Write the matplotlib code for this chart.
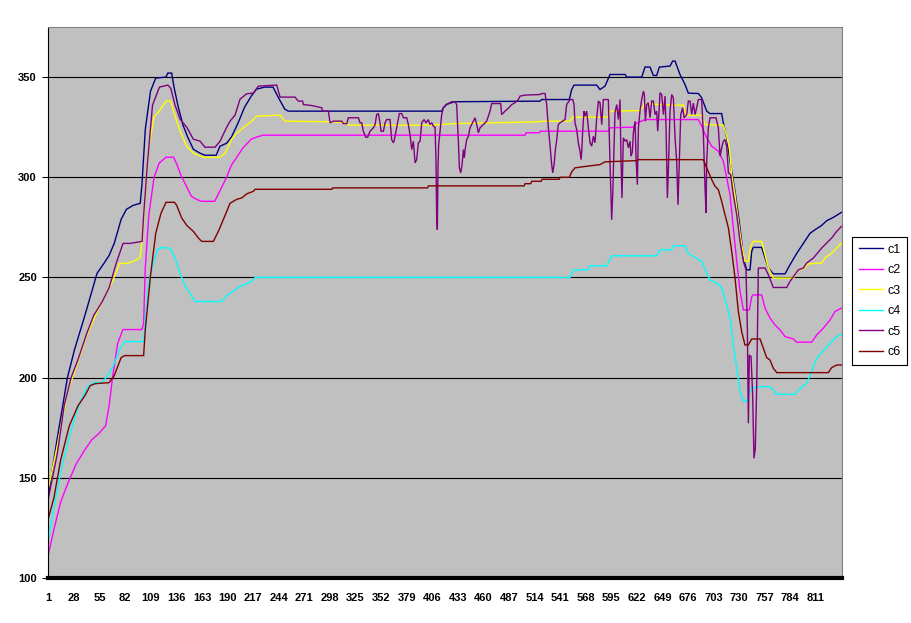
import matplotlib.pyplot as plt

# series: (category index, value) break points
c1_pts = [(1, 142), (10, 169), (21, 200), (28.5, 214), (39.4, 231), (44.9, 240), (52.2, 252), (59.5, 257),
          (65, 261), (70.4, 267), (77.7, 279), (83.2, 284), (90.5, 286), (97.8, 287), (99.6, 296), (103.2, 324),
          (108.7, 343), (114.2, 349.5), (125, 350), (127, 352), (131, 352), (133.5, 345), (138, 335), (143, 326),
          (148, 320), (153.9, 314), (161, 312), (166.2, 311), (178, 311), (182, 315.5), (189, 317), (194, 320),
          (201, 327), (208, 335), (215, 340.5), (220.6, 344), (229.4, 345), (238, 345), (243.4, 340), (250.4, 334),
          (254, 333), (416, 333), (417.8, 334.7), (421.3, 336.3), (424.8, 337), (430.1, 337.7), (519.8, 338),
          (521.6, 338.8), (550.7, 338.8), (553.2, 343.8), (555.7, 346), (579.6, 346), (583.1, 343.8), (588.4, 345.5),
          (593.7, 351.3), (609.5, 351.3), (611.3, 350), (627.1, 350), (630.6, 355), (635.9, 355), (639.4, 350.8),
          (642.9, 350.8), (645.7, 355), (657, 355.5), (659.8, 358), (662.3, 358), (667.5, 351.3), (672.8, 346.3),
          (676.3, 342), (686.9, 341.8), (690.4, 339.7), (695.7, 333), (699.2, 331.8), (711.5, 331.8), (713.3, 327),
          (716.8, 319.7), (720.3, 308), (725.6, 293), (729.1, 281.3), (732.6, 268), (734.4, 259.7), (737.9, 253.8),
          (741.4, 253.8), (743.2, 263), (744.9, 265), (753.7, 265), (757.3, 259.7), (760.8, 254.7), (766, 251.8),
          (778.4, 251.8), (783.6, 256.3), (790.7, 262), (797.7, 267), (804.7, 272), (810, 273.8), (817.1, 276),
          (822.3, 278.3), (829.4, 280), (838, 282.5)]

c2_pts = [(1, 112), (6.6, 124), (13.9, 138), (21.2, 147), (30.3, 157), (39.4, 164), (46.7, 169), (54, 172),
          (61.3, 176), (65, 186), (68.6, 200), (74, 217), (79.5, 224), (99.6, 224), (101.4, 227), (103.2, 255),
          (106.9, 281), (112.4, 300), (117.8, 307), (125, 310), (133, 310), (136, 307), (141.3, 300.5),
          (146.6, 295.5), (151.8, 290.5), (157.1, 289), (162.4, 288), (176.4, 288), (181.7, 293), (188.7, 299.7),
          (194, 306), (199.3, 309.7), (206.3, 314.7), (215, 319), (220.3, 320), (227.4, 321), (504, 321),
          (505, 322.2), (519, 322.2), (520, 323), (591.9, 323), (593.7, 324.7), (618.3, 325), (621.8, 327),
          (630.6, 328.8), (686.9, 328.8), (690.4, 325.5), (695.7, 319.7), (701, 315.5), (708, 313), (713.3, 308),
          (716.8, 299.7), (720.3, 291.3), (723.8, 274.7), (727.4, 258), (730.9, 243), (734.4, 233.8),
          (740.7, 233.8), (743.2, 240.5), (744.9, 241.3), (753.7, 241.3), (757.3, 234.7), (762.5, 229.7),
          (767.8, 226.3), (773.1, 223.8), (778.4, 220.5), (787.2, 219.3), (790.7, 217.7), (806.5, 217.7),
          (811.8, 221.3), (818.8, 224.7), (825.9, 228.8), (831.1, 233), (838, 234.7)]

c3_pts = [(1, 145), (10.3, 166), (21.2, 193), (28.5, 203), (41.4, 221), (48.6, 229), (57.7, 238), (68.6, 248),
          (75.9, 257), (83.2, 257), (90.5, 258), (97.8, 260), (100.7, 272), (103.2, 293), (106.9, 315),
          (112.4, 330), (117.8, 333), (125.1, 338), (130, 338), (134.6, 330.5), (139.9, 323), (146.9, 315.5),
          (153.9, 312), (164.5, 310), (182.1, 310), (187.4, 312), (194.4, 319), (199.7, 322), (206.7, 324.7),
          (215.5, 328), (220.8, 330.5), (245.4, 331), (250.7, 328), (298.2, 327.7), (315.8, 327.2), (317.5, 326),
          (403.7, 326), (430.1, 326.8), (519.8, 327.7), (521.6, 328), (551.5, 328), (554.3, 330), (591.9, 330),
          (593.7, 333), (625.3, 333.3), (630.6, 336.7), (660.5, 336), (671.1, 336), (673.9, 331), (690.4, 331),
          (693.9, 326.3), (713.3, 326), (716.8, 320.5), (719.6, 314.7), (722.1, 301.3), (725.6, 291.3),
          (729.1, 278), (732.6, 266.3), (736.1, 258), (739.7, 258), (742.1, 265.5), (744.9, 268), (753.7, 268),
          (757.3, 261.3), (760.8, 254.7), (766, 249.7), (787.2, 249.7), (792.4, 253.8), (797.7, 254.3),
          (803, 256.8), (817.1, 257.2), (820.6, 259.7), (827.6, 262.2), (838, 267.2)]

c4_pts = [(1, 119), (8.5, 140), (15.8, 157), (24.9, 174), (32.2, 185), (41.3, 195), (48.6, 197.5), (57.7, 197.5),
          (65, 202), (70.4, 207), (75.9, 214), (81.4, 218), (101.4, 218), (103.2, 229), (106.9, 248), (110.5, 255),
          (116, 264), (121.5, 265), (129.3, 264.5), (134.6, 259.7), (139.9, 252), (145.1, 246), (150.4, 242),
          (155.7, 238), (183.8, 238), (189.1, 241), (196.1, 243), (201.4, 245), (210.2, 247), (215.5, 248),
          (219, 250), (551.4, 250), (554.9, 253.8), (570.7, 253.8), (572.5, 255.8), (590.2, 255.8),
          (595.4, 260.8), (642.9, 260.8), (646.4, 263.8), (658.7, 263.8), (660.5, 265.8), (672.8, 265.8),
          (676.3, 262), (683.4, 260), (690.4, 258), (695.7, 252.2), (699.2, 248.8), (708, 246.7), (711.5, 244.7),
          (716.8, 236.3), (720.3, 229.7), (723.8, 216.3), (727.4, 204.7), (730.9, 193), (734.4, 188.3),
          (737.9, 188.3), (741.4, 193.8), (748.5, 195.5), (762.5, 195.5), (769.6, 191.7), (788.9, 191.7),
          (792.4, 193.8), (801.2, 197.2), (806.5, 203), (811.8, 209.7), (818.8, 213.3), (825.9, 217.2),
          (832.9, 220.5), (838, 221.7)]

c5_pts = [(1, 140), (10.3, 162), (17.6, 186), (24.9, 200), (32.2, 209), (41.4, 222), (48.7, 231), (57.8, 238),
          (65.1, 245), (72.4, 257), (79.7, 267), (87, 267), (99.8, 268), (101.6, 282), (105.3, 306), (110.8, 336),
          (118.1, 345), (127, 346), (130, 344.5), (134.6, 336), (139.9, 329), (146.9, 325), (153.9, 319),
          (161, 318), (166.2, 315), (176.8, 315), (182.1, 318), (189.1, 325), (192.6, 328), (197.9, 331),
          (203.2, 339), (210.2, 341.7), (217.3, 342), (222.5, 345.5), (241.9, 346), (245.4, 340), (261.2, 340),
          (264.7, 338), (269.3, 338), (270, 336.3), (278.8, 335.8), (289.4, 334.7), (290.4, 333), (296.4, 333),
          (298.2, 327.2), (301.7, 328), (310.5, 328), (312.2, 326.8), (315.8, 326.8), (317.5, 329.7),
          (328.1, 329.7), (329.8, 327.2), (331.6, 327.2), (333.3, 323), (335.8, 320), (337.9, 320), (340.4, 323),
          (343.9, 324.7), (345.7, 326.3), (347.4, 331.3), (349.2, 331.8), (350.9, 327.2), (352, 323),
          (354.5, 323), (356.2, 327.2), (358, 328.8), (361.5, 328.8), (363.2, 318.8), (365, 317.2),
          (366.1, 318.8), (368.5, 324.7), (371.3, 331.8), (373.8, 331.8), (375.6, 329.7), (379.1, 329.7),
          (380.8, 326.3), (382.6, 321.3), (384.4, 313.8), (386.1, 318), (387.9, 307.2), (389.6, 308.8),
          (391.4, 317.2), (393.2, 318), (394.9, 327.2), (397.4, 328.8), (399.5, 327.2), (401.9, 328.8),
          (403.7, 326.3), (405.5, 327.2), (407.2, 325.5), (409, 325), (410, 308), (410.7, 280.5), (411.4, 273.8),
          (412.1, 304.7), (412.8, 316.3), (414.3, 323), (416, 331.3), (417.8, 334.7), (420.6, 336.3),
          (426.6, 337.7), (430.1, 337.7), (431.8, 336.3), (433.6, 318), (434.7, 304.7), (436.1, 302.2),
          (437.5, 306.3), (438.9, 313.8), (439.9, 309.7), (441, 314.7), (442.4, 318.8), (444.2, 320.5),
          (445.9, 324.7), (449.4, 328), (451.2, 329.7), (453, 326.3), (454.7, 322.2), (456.5, 324.7),
          (460, 326.3), (463.5, 328), (467, 333), (468.8, 336.8), (478.3, 336.8), (479.3, 331.3), (482.9, 333),
          (486.4, 334.5), (489.9, 336.3), (493.4, 337.2), (496.9, 338.8), (498.7, 340.5), (504, 341),
          (519.8, 341.3), (521.6, 341.8), (525.1, 341.8), (526.8, 336.3), (528.6, 324.7), (530.3, 316.3),
          (532.1, 306.3), (533.2, 302.2), (534.6, 306.3), (536, 313.8), (537.4, 318.8), (539.1, 326.3),
          (540.9, 327.2), (546.2, 328.8), (547.9, 336.3), (551.5, 338.8), (554.3, 338.8), (555.7, 336.3),
          (556.7, 327.2), (558.5, 323.8), (560.2, 317.2), (562, 313), (563.1, 308.8), (563.8, 313), (564.8, 323),
          (566.2, 333), (567.3, 330.5), (569, 333), (570.8, 324.7), (572.6, 317.2), (574.3, 315.5),
          (576.1, 320.5), (577.8, 317.2), (579.6, 329.7), (581.4, 338), (583.1, 337.2), (584.9, 326.3),
          (586.6, 338.8), (591.9, 338.8), (593.7, 306.3), (595.4, 278.8), (596.5, 291.3), (597.9, 316.3),
          (598.9, 332.2), (600.7, 336.3), (602.5, 328.8), (604.2, 338.8), (605.3, 308), (606.3, 289.7),
          (607.7, 319.7), (609.5, 318), (611.3, 318.8), (613, 314.7), (614.8, 318), (615.8, 310.5),
          (617.2, 312.5), (618.3, 322.2), (620.1, 328), (621.1, 309.7), (622.5, 296.3), (623.6, 324.7),
          (625.3, 333), (627.1, 338.8), (628.9, 343), (629.9, 341.3), (631, 328), (632.4, 336.3), (634.1, 337.2),
          (635.9, 329.7), (637.6, 338), (639.4, 338), (641.2, 331.3), (642.9, 333), (644, 323), (645.4, 333),
          (646.4, 342.2), (648.2, 341.3), (650, 331.3), (651.7, 340.5), (652.8, 324.7), (654.2, 289.7),
          (655.2, 303), (657, 333), (658.8, 341.3), (660.5, 339.7), (662.3, 319.7), (664, 308), (665.4, 286.3),
          (666.8, 308), (668.3, 331.3), (670.4, 334.7), (671.8, 329.7), (674.6, 331.3), (676.3, 338),
          (678.1, 338), (679.9, 331.3), (681.6, 337), (683.4, 331.3), (685.1, 334.7), (686.9, 338.8),
          (690.4, 338.8), (692.2, 321.3), (693.9, 295.5), (695, 282.2), (695.7, 308), (697.4, 324.7),
          (699.2, 329.7), (705.5, 329.7), (708, 324.7), (709.8, 310.5), (711.5, 314.7), (713.3, 318),
          (715, 318.8), (716.8, 315.5), (718.6, 302.2), (721, 301.3), (723.8, 291.3), (727.4, 281.3),
          (730.9, 268), (734.4, 258), (737.2, 253.8), (738.6, 224.7), (739.7, 177.2), (740.7, 211.3),
          (742.5, 210.5), (744.2, 191.3), (745.6, 159.7), (747, 164.7), (748.5, 196.7), (750.2, 254.7),
          (757.3, 254.7), (760.8, 251.3), (766, 245), (780.1, 245), (783.6, 248), (792.4, 253.8), (797.7, 254.7),
          (801.2, 257.2), (808.3, 259.7), (817.1, 264.7), (822.3, 267.2), (827.6, 269.7), (832.9, 273),
          (838, 275.5)]

c6_pts = [(1, 130), (6.7, 140), (13.9, 159), (23, 176), (32.2, 186), (39.4, 191), (45, 196), (50.4, 197),
          (65, 197.5), (70.4, 201), (77.7, 210), (81.4, 211), (101.4, 211), (103.2, 224), (108.7, 251),
          (114.2, 272), (119.7, 282), (125.1, 287.5), (134, 287.5), (136.3, 286), (141.6, 279.7), (146.9, 276),
          (153.9, 273), (159.2, 269.7), (162.7, 268), (175, 268), (180.3, 273), (187.4, 281), (192.6, 287),
          (199.7, 289), (205, 289.7), (210.2, 291.7), (217.3, 293), (219, 294), (300, 294), (301, 294.7),
          (401, 294.7), (402, 295.7), (503, 295.7), (504, 296.8), (510, 296.8), (511, 298), (521, 298),
          (522, 299), (540, 299), (541, 300), (550.8, 300), (553.2, 302.7), (556.7, 304.7), (569, 305.5),
          (583.1, 306.3), (588.4, 307.7), (621.8, 308.3), (623.6, 308.8), (692.2, 308.8), (695.7, 304.7),
          (701, 298.8), (704.5, 295.5), (708, 293.8), (711.5, 288), (715, 281.3), (718.6, 274.7), (722.1, 263),
          (725.6, 249.7), (729.1, 233), (732.6, 223), (736.1, 216.3), (739.7, 216.3), (743.2, 219.3),
          (752, 219.3), (755.5, 214.7), (759, 210), (762.5, 208.8), (766, 204.7), (769.6, 202.5), (824.1, 202.5),
          (827.6, 205), (832.9, 206.3), (838, 206.3)]

labels = ['c1', 'c2', 'c3', 'c4', 'c5', 'c6']
colors = ['#000080', '#FF00FF', '#FFFF00', '#00FFFF', '#800080', '#800000']
n_cat = 838
xtick_vals = list(range(1, 812, 27))
ytick_vals = [100, 150, 200, 250, 300, 350]

plt.rcParams['font.family'] = ['Liberation Sans', 'DejaVu Sans']

fig = plt.figure(figsize=(9.11, 6.23), dpi=100)
ax = fig.add_axes([48 / 911, 45 / 623, 794 / 911, 551 / 623])
ax.set_facecolor('#C0C0C0')

for pts, col, lab in zip([c1_pts, c2_pts, c3_pts, c4_pts, c5_pts, c6_pts], colors, labels):
    xs = [p[0] for p in pts]
    ys = [p[1] for p in pts]
    ax.plot(xs, ys, color=col, lw=1.0, label=lab, solid_joinstyle='miter')

ax.set_xlim(0.5, n_cat + 0.5)
ax.set_ylim(100, 375)
ax.set_yticks(ytick_vals)
ax.set_xticks(xtick_vals)
ax.set_xticklabels([str(v) for v in xtick_vals], fontsize=8, fontweight='bold')
ax.set_yticklabels([str(v) for v in ytick_vals], fontsize=8, fontweight='bold')
ax.yaxis.grid(True, color='black', lw=0.8)
ax.set_axisbelow(True)

ax.tick_params(axis='x', length=0, pad=11)
ax.tick_params(axis='y', direction='out', length=4, width=0.8, pad=4)

ax.spines['left'].set_color('black')
ax.spines['left'].set_linewidth(0.8)
ax.spines['bottom'].set_color('black')
ax.spines['bottom'].set_linewidth(3)
ax.spines['top'].set_color('#808080')
ax.spines['top'].set_linewidth(0.8)
ax.spines['right'].set_color('#808080')
ax.spines['right'].set_linewidth(0.8)

leg = ax.legend(loc='upper left', bbox_to_anchor=(852 / 911, 1 - 237 / 623), bbox_transform=fig.transFigure,
                fontsize=9, fancybox=False, edgecolor='black', framealpha=1, handlelength=1.9,
                handletextpad=0.35, labelspacing=0.68, borderpad=0.55, borderaxespad=0)
leg.get_frame().set_linewidth(0.8)

plt.savefig('out.png', dpi=100)
